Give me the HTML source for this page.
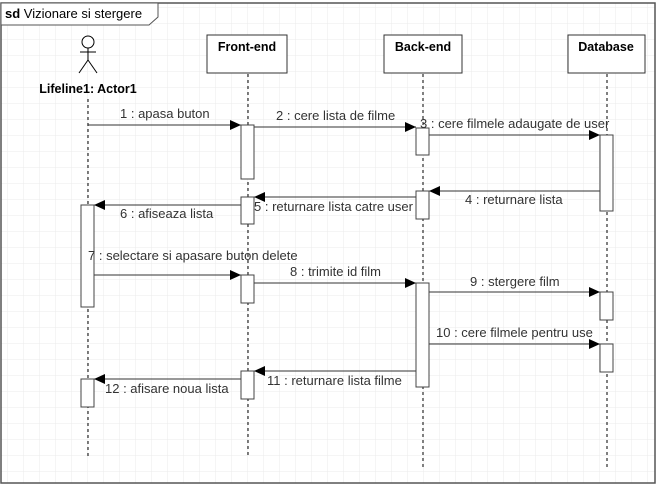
<!DOCTYPE html>
<html><head><meta charset="utf-8"><style>
html,body{margin:0;padding:0;background:#fff;}
svg{display:block;font-family:"Liberation Sans",Arial,sans-serif;}
</style></head><body>
<svg width="659" height="485" viewBox="0 0 659 485" xmlns="http://www.w3.org/2000/svg">
<defs>
<pattern id="g" width="16" height="16" patternUnits="userSpaceOnUse" x="7" y="7">
<path d="M16 0H0V16" fill="none" stroke="#ebebeb" stroke-width="1"/>
</pattern>
<marker id="a" markerWidth="12" markerHeight="10" refX="11" refY="5" orient="auto" markerUnits="userSpaceOnUse">
<path d="M0,0 L11,5 L0,10 z" fill="#000"/>
</marker>
</defs>
<rect x="0" y="0" width="659" height="485" fill="#fff"/>
<rect x="1" y="3" width="654" height="480" fill="url(#g)" stroke="#555" stroke-width="1.5"/>
<path d="M1,3 H158 V17 L149,25 H1 Z" fill="#fff" stroke="#555" stroke-width="1"/>
<text x="5" y="18" font-size="13"><tspan font-weight="bold">sd</tspan> Vizionare si stergere</text>

<g stroke="#000" fill="none" stroke-width="1">
<circle cx="88" cy="42" r="6" fill="#fff"/>
<line x1="88" y1="48" x2="88" y2="60"/>
<line x1="80" y1="52" x2="96" y2="52"/>
<line x1="88" y1="60" x2="79" y2="73"/>
<line x1="88" y1="60" x2="97" y2="73"/>
</g>
<text x="88" y="93" font-size="12.5" font-weight="bold" text-anchor="middle">Lifeline1: Actor1</text>

<g stroke="#333" fill="#fff" stroke-width="1">
<rect x="207" y="35" width="80" height="38"/>
<rect x="384" y="35" width="78" height="38"/>
<rect x="568" y="35" width="77" height="38"/>
</g>
<g font-size="12.5" font-weight="bold" text-anchor="middle">
<text x="247" y="51">Front-end</text>
<text x="423" y="51">Back-end</text>
<text x="606" y="51">Database</text>
</g>

<g stroke="#000" stroke-dasharray="3,3" stroke-width="1">
<line x1="88" y1="99" x2="88" y2="457"/>
<line x1="248" y1="74" x2="248" y2="457"/>
<line x1="423" y1="74" x2="423" y2="467"/>
<line x1="607" y1="74" x2="607" y2="467"/>
</g>

<g stroke="#333" stroke-width="1" marker-end="url(#a)">
<line x1="88" y1="125" x2="241" y2="125"/>
<line x1="254" y1="127" x2="416" y2="127"/>
<line x1="429" y1="135" x2="600" y2="135"/>
<line x1="600" y1="191" x2="429" y2="191"/>
<line x1="416" y1="197" x2="254" y2="197"/>
<line x1="241" y1="205" x2="94" y2="205"/>
<line x1="94" y1="275" x2="241" y2="275"/>
<line x1="254" y1="283" x2="416" y2="283"/>
<line x1="429" y1="292" x2="600" y2="292"/>
<line x1="429" y1="344" x2="600" y2="344"/>
<line x1="416" y1="371" x2="254" y2="371"/>
<line x1="241" y1="379" x2="94" y2="379"/>
</g>

<g stroke="#444" fill="#fff" stroke-width="1">
<rect x="241" y="125" width="13" height="54"/>
<rect x="241" y="197" width="13" height="27"/>
<rect x="241" y="275" width="13" height="28"/>
<rect x="241" y="371" width="13" height="28"/>
<rect x="81" y="205" width="13" height="102"/>
<rect x="81" y="379" width="13" height="28"/>
<rect x="416" y="128" width="13" height="27"/>
<rect x="416" y="191" width="13" height="28"/>
<rect x="416" y="283" width="13" height="104"/>
<rect x="600" y="135" width="13" height="76"/>
<rect x="600" y="292" width="13" height="28"/>
<rect x="600" y="344" width="13" height="28"/>
</g>

<g font-size="13" fill="#333">
<text x="120" y="118">1 : apasa buton</text>
<text x="276" y="120">2 : cere lista de filme</text>
<text x="420" y="128">3 : cere filmele adaugate de user</text>
<text x="465" y="204">4 : returnare lista</text>
<text x="254" y="211">5 : returnare lista catre user</text>
<text x="120" y="218">6 : afiseaza lista</text>
<text x="88" y="260">7 : selectare si apasare buton delete</text>
<text x="290" y="276">8 : trimite id film</text>
<text x="470" y="286">9 : stergere film</text>
<text x="436" y="337">10 : cere filmele pentru use</text>
<text x="267" y="385">11 : returnare lista filme</text>
<text x="105" y="393">12 : afisare noua lista</text>
</g>
</svg>
</body></html>
